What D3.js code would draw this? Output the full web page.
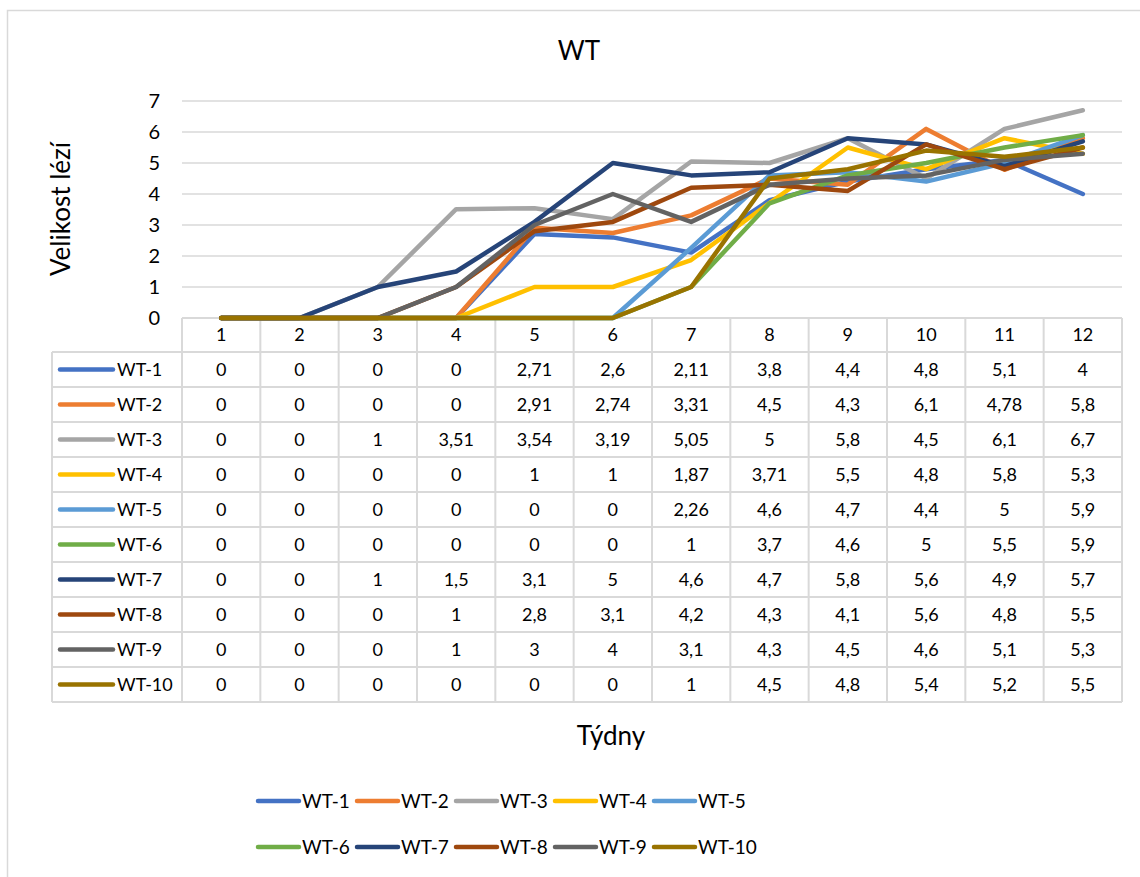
<!DOCTYPE html>
<html>
<head>
<meta charset="utf-8">
<script src="https://cdn.jsdelivr.net/npm/d3@7"></script>
<style>
  body { margin: 0; background: #fff; }
  text { font-family: Lato, "Liberation Sans", sans-serif; fill: #000; }
</style>
</head>
<body>
<div id="chart"></div>
<script>
// data
const weeks = [1, 2, 3, 4, 5, 6, 7, 8, 9, 10, 11, 12];
const seriesNames = ["WT-1", "WT-2", "WT-3", "WT-4", "WT-5", "WT-6", "WT-7", "WT-8", "WT-9", "WT-10"];
const wt1 = [0, 0, 0, 0, 2.71, 2.6, 2.11, 3.8, 4.4, 4.8, 5.1, 4];
const wt2 = [0, 0, 0, 0, 2.91, 2.74, 3.31, 4.5, 4.3, 6.1, 4.78, 5.8];
const wt3 = [0, 0, 1, 3.51, 3.54, 3.19, 5.05, 5, 5.8, 4.5, 6.1, 6.7];
const wt4 = [0, 0, 0, 0, 1, 1, 1.87, 3.71, 5.5, 4.8, 5.8, 5.3];
const wt5 = [0, 0, 0, 0, 0, 0, 2.26, 4.6, 4.7, 4.4, 5, 5.9];
const wt6 = [0, 0, 0, 0, 0, 0, 1, 3.7, 4.6, 5, 5.5, 5.9];
const wt7 = [0, 0, 1, 1.5, 3.1, 5, 4.6, 4.7, 5.8, 5.6, 4.9, 5.7];
const wt8 = [0, 0, 0, 1, 2.8, 3.1, 4.2, 4.3, 4.1, 5.6, 4.8, 5.5];
const wt9 = [0, 0, 0, 1, 3, 4, 3.1, 4.3, 4.5, 4.6, 5.1, 5.3];
const wt10 = [0, 0, 0, 0, 0, 0, 1, 4.5, 4.8, 5.4, 5.2, 5.5];
const yTicks = [0, 1, 2, 3, 4, 5, 6, 7];

const seriesValues = [wt1, wt2, wt3, wt4, wt5, wt6, wt7, wt8, wt9, wt10];
const colors = ["#4472C4", "#ED7D31", "#A5A5A5", "#FFC000", "#5B9BD5",
                "#70AD47", "#264478", "#9E480E", "#636363", "#997300"];

const width = 1140, height = 877;
const plotLeft = 182, plotRight = 1122, plotTop = 101, plotBottom = 318;
const rowH = 35, headerH = 34, tableLeft = 52;
const gridColor = "#d9d9d9";

const svg = d3.select("#chart").append("svg")
    .attr("width", width).attr("height", height);

// chart area border (only top and left are inside the picture)
svg.append("rect")
    .attr("x", 7.5).attr("y", 10.5)
    .attr("width", width).attr("height", height)
    .attr("fill", "none").attr("stroke", gridColor).attr("stroke-width", 1.5);

const x = d3.scaleBand().domain(weeks).range([plotLeft, plotRight]);
const y = d3.scaleLinear().domain([0, 7]).range([plotBottom, plotTop]);
const fmt = v => String(v).replace(".", ",");

// title
svg.append("text").attr("x", 579).attr("y", 60)
    .attr("text-anchor", "middle").style("font-size", "26px").text("WT");

// y axis title
svg.append("text")
    .attr("transform", "translate(70,209) rotate(-90)")
    .attr("text-anchor", "middle").style("font-size", "26px").text("Velikost lézí");

// horizontal gridlines
svg.selectAll(".grid").data(yTicks.filter(d => d > 0)).enter().append("line")
    .attr("x1", plotLeft).attr("x2", plotRight)
    .attr("y1", d => y(d)).attr("y2", d => y(d))
    .attr("stroke", gridColor).attr("stroke-width", 1.5);

// y tick labels
svg.selectAll(".ytick").data(yTicks).enter().append("text")
    .attr("x", 160).attr("y", d => y(d) + 7)
    .attr("text-anchor", "end").style("font-size", "20px")
    .text(d => d);

// data table grid
const tableBottom = plotBottom + headerH + rowH * seriesNames.length;
const tg = svg.append("g").attr("stroke", gridColor).attr("stroke-width", 2);
// vertical lines through header + data rows
weeks.forEach(w => {
    tg.append("line").attr("x1", x(w)).attr("x2", x(w))
        .attr("y1", plotBottom).attr("y2", tableBottom);
});
tg.append("line").attr("x1", plotRight).attr("x2", plotRight)
    .attr("y1", plotBottom).attr("y2", tableBottom);
tg.append("line").attr("x1", tableLeft).attr("x2", tableLeft)
    .attr("y1", plotBottom + headerH).attr("y2", tableBottom);
// horizontal lines
tg.append("line").attr("x1", plotLeft).attr("x2", plotRight)
    .attr("y1", plotBottom).attr("y2", plotBottom);
d3.range(seriesNames.length + 1).forEach(i => {
    const yy = plotBottom + headerH + i * rowH;
    tg.append("line").attr("x1", tableLeft).attr("x2", plotRight)
        .attr("y1", yy).attr("y2", yy);
});

// header (week numbers)
svg.selectAll(".wk").data(weeks).enter().append("text")
    .attr("x", d => x(d) + x.bandwidth() / 2)
    .attr("y", plotBottom + headerH / 2 + 6)
    .attr("text-anchor", "middle").style("font-size", "18px")
    .text(d => d);

// table rows
seriesNames.forEach((name, i) => {
    const cy = plotBottom + headerH + i * rowH + rowH / 2;
    svg.append("line").attr("x1", 60).attr("x2", 113)
        .attr("y1", cy).attr("y2", cy)
        .attr("stroke", colors[i]).attr("stroke-width", 4.5)
        .attr("stroke-linecap", "round");
    svg.append("text").attr("x", 117).attr("y", cy + 6)
        .style("font-size", "18px").text(name);
    svg.selectAll(".cell" + i).data(seriesValues[i]).enter().append("text")
        .attr("x", (d, j) => x(weeks[j]) + x.bandwidth() / 2)
        .attr("y", cy + 6)
        .attr("text-anchor", "middle").style("font-size", "18px")
        .text(d => fmt(d));
});

// series lines
const line = d3.line()
    .x((d, j) => x(weeks[j]) + x.bandwidth() / 2)
    .y(d => y(d));
seriesValues.forEach((vals, i) => {
    svg.append("path").datum(vals)
        .attr("d", line)
        .attr("fill", "none")
        .attr("stroke", colors[i]).attr("stroke-width", 4.5)
        .attr("stroke-linejoin", "round").attr("stroke-linecap", "round");
});

// x axis title
svg.append("text").attr("x", 611).attr("y", 745)
    .attr("text-anchor", "middle").style("font-size", "26px").text("Týdny");

// bottom legend, two rows of five
const legendX0 = 258, legendStep = 99, legendRows = [801, 847];
seriesNames.forEach((name, i) => {
    const lx = legendX0 + (i % 5) * legendStep;
    const ly = legendRows[Math.floor(i / 5)];
    svg.append("line").attr("x1", lx).attr("x2", lx + 41)
        .attr("y1", ly).attr("y2", ly)
        .attr("stroke", colors[i]).attr("stroke-width", 4.5)
        .attr("stroke-linecap", "round");
    svg.append("text").attr("x", lx + 44).attr("y", ly + 7)
        .style("font-size", "19px").text(name);
});
</script>
</body>
</html>
